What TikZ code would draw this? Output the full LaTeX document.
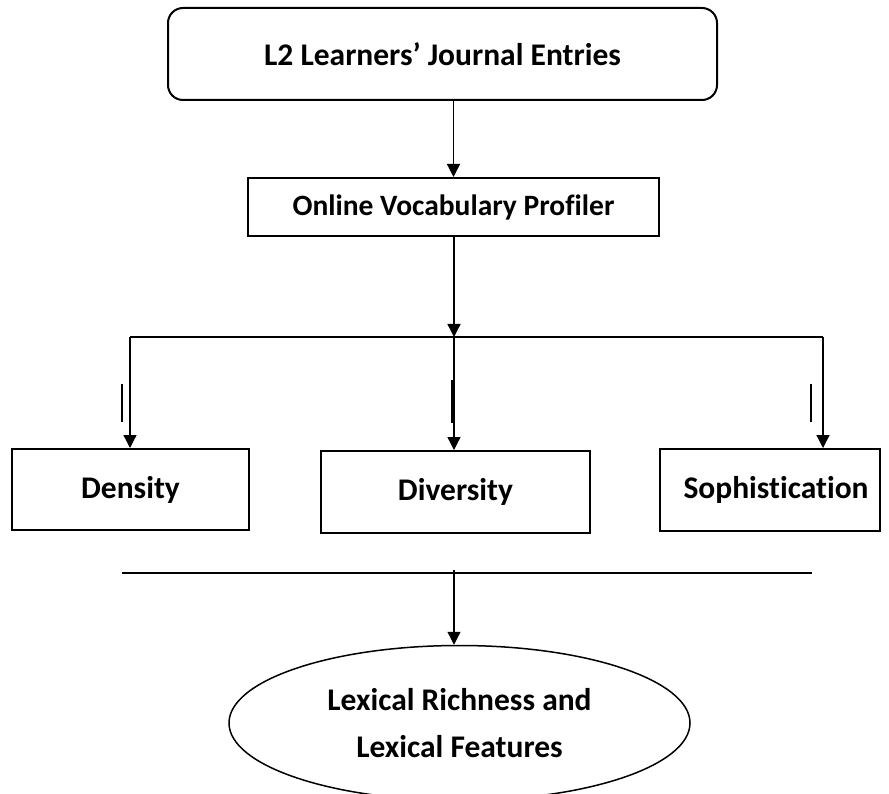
\documentclass[tikz,border=0pt]{standalone}
\usepackage{fontspec}
\setmainfont{Carlito}[Ligatures={TeX,NoCommon}]
\usetikzlibrary{arrows.meta, shapes.geometric}
\tikzset{
  every picture/.style={font=\bfseries, line width=1.3pt},
  box/.style={draw, line width=2pt, align=center, inner sep=0pt},
  arrow/.style={-{Triangle[length=13pt, width=13pt]}, line width=1.3pt},
}

\begin{document}
\begin{tikzpicture}[x=1pt, y=-1pt,
    txt/.style={font=\fontsize{31.5}{47}\selectfont\bfseries}]
  \useasboundingbox (0,0) rectangle (889,794);
  % ---- top: source and profiler ----
  \node[box, rounded corners=15pt, minimum width=549pt, minimum height=92pt, txt] (entries) at (442.5,54) {L2 Learners’ Journal Entries};
  \node[box, minimum width=411pt, minimum height=58pt, font=\fontsize{29.5}{35}\selectfont\bfseries] (profiler) at (453.5,207) {Online Vocabulary Profiler};
  \draw[arrow] (profiler.north |- entries.south) -- (profiler.north);
  % ---- branches ----
  \coordinate (jl) at (130,337);
  \coordinate (jm) at (454,337);
  \coordinate (jr) at (823,337);
  \draw (jl) -- (jr);
  \draw[arrow] (profiler.south -| jm) -- (jm);
  \node[box, minimum width=237pt, minimum height=81pt, txt] (density) at (130.5,489.5) {Density};
  \node[box, minimum width=269pt, minimum height=82pt, txt] (diversity) at (455.5,492) {Diversity};
  \node[box, minimum width=220pt, minimum height=82pt, txt] (soph) at (770,490) {\hspace{12pt}Sophistication};
  \foreach \j/\b in {jl/density, jm/diversity, jr/soph}
    \draw[arrow] (\j) -- (\j |- \b.north);
  % stray marks beside the branches
  \draw (122,384) -- (122,422);
  \draw (452,380) -- (452,423);
  \draw (811,384) -- (811,422);
  % ---- bottom: result ----
  \coordinate (bl) at (122,573);
  \coordinate (br) at (812,573);
  \coordinate (bm) at (454,570);
  \draw (bl) -- (br);
  \node[ellipse, draw, line width=1.5pt, minimum width=461pt, minimum height=155pt, inner sep=0pt, align=center, txt] (lexical) at (459.5,723) {Lexical Richness and\\Lexical Features};
  \draw[arrow] (bm) -- (bm |- lexical.north);
\end{tikzpicture}
\end{document}
